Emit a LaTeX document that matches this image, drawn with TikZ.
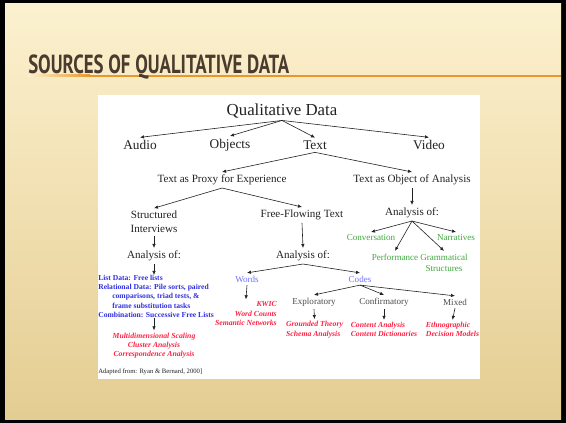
\documentclass[tikz,border=0pt]{standalone}
\usepackage{fontspec}
\setmainfont{Liberation Serif}
\newfontfamily\titlefont{PT Sans}
\usepackage{graphicx}
\usetikzlibrary{arrows.meta}
\definecolor{slidetop}{HTML}{FCF1CF}
\definecolor{slidebottom}{HTML}{E4CD92}
\definecolor{rulecolor}{HTML}{E8982A}
\definecolor{titlebrown}{HTML}{4A3B2E}
\definecolor{inkgrey}{HTML}{222222}
\definecolor{kindgrey}{HTML}{4D4D4D}
\definecolor{leafgreen}{HTML}{40A840}
\definecolor{codeblue}{HTML}{7272FF}
\definecolor{listblue}{HTML}{3030E0}
\definecolor{methodred}{HTML}{FF2244}
\tikzset{
  top/.style={font=\fontsize{12.6}{15}\selectfont, text=inkgrey, inner sep=1.5pt},
  mid/.style={font=\fontsize{10}{12}\selectfont, text=inkgrey, inner sep=2pt},
  sub/.style={font=\fontsize{8.3}{10.5}\selectfont, text=inkgrey, align=center, inner sep=2pt},
  leaf/.style={font=\fontsize{6.8}{8.3}\selectfont, text=leafgreen, align=center, inner sep=2pt},
  kind/.style={font=\fontsize{6.8}{8.3}\selectfont, text=kindgrey, inner sep=2pt},
  codeword/.style={font=\fontsize{6.8}{8.3}\selectfont, text=codeblue, inner sep=2pt},
  listdata/.style={font=\fontsize{5.7}{6.9}\selectfont\bfseries, text=listblue, align=left, inner sep=0pt},
  method/.style={font=\fontsize{5.8}{7}\selectfont\bfseries\itshape, text=methodred, align=center, inner sep=1.5pt},
  note/.style={font=\fontsize{5}{6}\selectfont, text=inkgrey, inner sep=0pt},
  arr/.style={-{Latex[length=3pt,width=2.6pt]}, draw=inkgrey, line width=0.45pt}
}

\begin{document}
\begin{tikzpicture}[x=0.75pt, y=-0.75pt]
  % slide
  \fill[black] (0,0) rectangle (566,423);
  \shade[top color=slidetop, bottom color=slidebottom] (5,4) rectangle (561,419);
  \useasboundingbox (0,0) rectangle (566,423);
  \shade[left color=slidetop, right color=rulecolor] (28,75) rectangle (90,77);
  \fill[rulecolor] (90,75) rectangle (561,77);
  \node[anchor=base west, inner sep=0pt, text=titlebrown, font=\titlefont\bfseries] (title) at (28,74)
    {\resizebox{195.75pt}{14pt}{SOURCES OF QUALITATIVE DATA}};
  \fill[white] (98,95) rectangle (480,379);

  % tree
  \node[top] (qd) at (282,111) {Qualitative Data};
  \node[mid] (audio) at (140,145) {Audio};
  \node[mid] (objects) at (230,145) {Objects};
  \node[mid] (text) at (315,145) {Text};
  \node[mid] (video) at (429,145) {Video};
  \node[sub] (proxy) at (222,180) {Text as Proxy for Experience};
  \node[sub] (object) at (412,180) {Text as Object of Analysis};
  \node[sub] (struct) at (154,222) {Structured\\Interviews};
  \node[sub] (flow) at (302,215) {Free-Flowing Text};
  \node[sub] (anaobj) at (412,213) {Analysis of:};
  \node[leaf] (conv) at (371,238) {Conversation};
  \node[leaf] (narr) at (456,238) {Narratives};
  \node[leaf] (perf) at (395,257) {Performance};
  \node[leaf] (gram) at (444,262.5) {Grammatical\\Structures};
  \node[sub] (anastr) at (154,256) {Analysis of:};
  \node[sub] (anaflow) at (303,256) {Analysis of:};
  \node[listdata, anchor=north west] (lists) at (98,275) {List Data: Free lists\\
    Relational Data: Pile sorts, paired\\
    \hspace*{10.5pt}comparisons, triad tests, \&\\
    \hspace*{10.5pt}frame substitution tasks\\
    Combination: Successive Free Lists};
  \node[method] (scaling) at (154,345.5) {Multidimensional Scaling\\Cluster Analysis\\Correspondence Analysis};
  \node[note, anchor=west] (source) at (98,372) {Adapted from: Ryan \& Bernard, 2000]};
  \node[codeword] (words) at (247,279) {Words};
  \node[codeword] (codes) at (360,279) {Codes};
  \node[method, align=right, anchor=east] (kwic) at (279,313.5) {KWIC\\Word Counts\\Semantic Networks};
  \node[kind] (explor) at (314,302) {Exploratory};
  \node[kind] (confirm) at (384,302) {Confirmatory};
  \node[kind] (mixed) at (455,302) {Mixed};
  \node[method, align=left] (grounded) at (314.5,329.5) {Grounded Theory\\Schema Analysis};
  \node[method, align=left] (content) at (384,329.5) {Content Analysis\\Content Dictionaries};
  \node[method, align=left] (ethno) at (452.5,329.5) {Ethnographic\\Decision Models};

  \foreach \n in {audio,objects,text,video}
    \draw[arr] (qd.south) -- (\n.north);
  \draw[arr] (text.south) -- (proxy.north);
  \draw[arr] (text.south) -- (object.north);
  \draw[arr] (proxy.south) -- (struct.north);
  \draw[arr] (proxy.south) -- (flow.north);
  \draw[arr] (object.south) -- (anaobj.north);
  \foreach \n in {conv,narr,perf,gram}
    \draw[arr] (anaobj.south) -- (\n.north);
  \draw[arr] (struct.south) -- (anastr.north);
  \draw[arr] (anastr.south) -- (anastr.south |- lists.north);
  \draw[arr] (anastr.south |- lists.south) -- (scaling.north);
  \draw[arr] (flow.south) -- (anaflow.north);
  \draw[arr] (anaflow.south) -- (words.north);
  \draw[arr] (anaflow.south) -- (codes.north);
  \draw[arr] (words.south) -- (kwic.north);
  \foreach \n in {explor,confirm,mixed}
    \draw[arr] (codes.south) -- (\n.north);
  \draw[arr] (explor.south) -- (grounded.north);
  \draw[arr] (confirm.south) -- (content.north);
  \draw[arr] (mixed.south) -- (ethno.north);
\end{tikzpicture}
\end{document}
